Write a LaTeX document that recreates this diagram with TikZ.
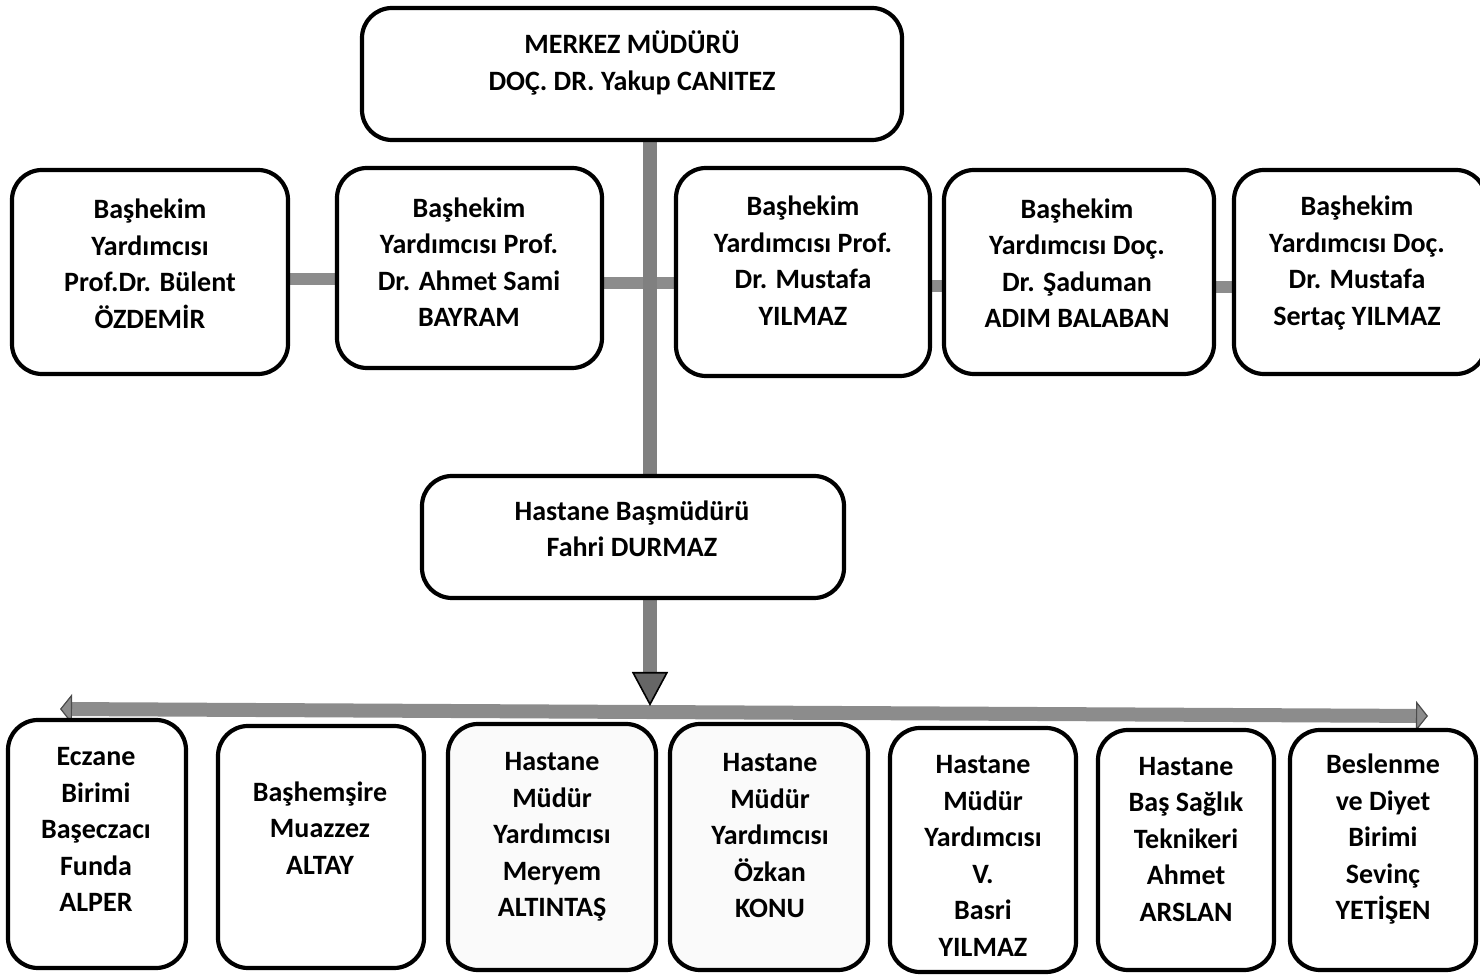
\documentclass[tikz,border=0pt]{standalone}
\usepackage{fontspec}
\setmainfont{Carlito}
\usetikzlibrary{arrows.meta}
\pgfdeclarelayer{bg}
\pgfsetlayers{bg,main}
\begin{document}
\begin{tikzpicture}[x=0.5pt,y=-0.5pt,
  box/.style={draw=black, line width=2.1pt, rounded corners=15pt, fill=white, inner sep=0pt},
  dotbox/.style={box, fill=black!2},
  txt/.style={font=\fontsize{14}{18.25}\selectfont\bfseries, align=center, inner sep=0pt},
  conn/.style={draw=black!45, line width=6pt},
]
\useasboundingbox (0,0) rectangle (1480,978);
\clip (0,0) rectangle (1480,978);

% top
\node[box, minimum width=270pt, minimum height=66pt] (top) at (632,74) {};
\node[txt] (ttop) at (632,63) {MERKEZ MÜDÜRÜ\\DOÇ. DR. Yakup CANITEZ};

% row 2
\node[box, minimum width=138pt, minimum height=102pt] (a1) at (150,272) {};
\node[box, minimum width=132.5pt, minimum height=100pt] (a2) at (469.5,268) {};
\node[box, minimum width=127pt, minimum height=104pt] (a3) at (803,272) {};
\node[box, minimum width=135pt, minimum height=102pt] (a4) at (1079,272) {};
\node[box, minimum width=126pt, minimum height=102pt] (a5) at (1360,272) {};
\node[txt] (ta1) at (150,264) {Başhekim\\Yardımcısı\\Prof.Dr. Bülent\\ÖZDEMİR};
\node[txt] (ta2) at (469,262) {Başhekim\\Yardımcısı Prof.\\Dr. Ahmet Sami\\BAYRAM};
\node[txt] (ta3) at (803,260.5) {Başhekim\\Yardımcısı Prof.\\Dr. Mustafa\\YILMAZ};
\node[txt] (ta4) at (1077,263) {Başhekim\\Yardımcısı Doç.\\Dr. Şaduman\\ADIM BALABAN};
\node[txt] (ta5) at (1357,263) {Başhekim\\Yardımcısı Doç.\\Dr. Mustafa\\Sertaç YILMAZ};

% middle
\node[box, minimum width=211pt, minimum height=61pt] (mid) at (633,537) {};
\node[txt] (tmid) at (632,529) {Hastane Başmüdürü\\Fahri DURMAZ};

% bottom row
\node[box, minimum width=89pt, minimum height=124pt] (b1) at (97,844) {};
\node[box, minimum width=103pt, minimum height=121pt] (b2) at (321,847) {};
\node[dotbox, minimum width=104pt, minimum height=123pt] (b3) at (552,847) {};
\node[dotbox, minimum width=99pt, minimum height=123pt] (b4) at (769,847) {};
\node[box, minimum width=93pt, minimum height=122pt] (b5) at (983,850) {};
\node[box, minimum width=88pt, minimum height=120pt] (b6) at (1186,850) {};
\node[box, minimum width=93pt, minimum height=120pt] (b7) at (1383,850) {};
\node[txt] (tb1) at (96,829.5) {Eczane\\Birimi\\Başeczacı\\Funda\\ALPER};
\node[txt] (tb2) at (320,828) {Başhemşire\\Muazzez\\ALTAY};
\node[txt] (tb3) at (552,837) {Hastane\\Müdür\\Yardımcısı\\Meryem\\ALTINTAŞ};
\node[txt] (tb4) at (770,836) {Hastane\\Müdür\\Yardımcısı\\Özkan\\KONU};
\node[txt] (tb5) at (983,856) {Hastane\\Müdür\\Yardımcısı\\V.\\Basri\\YILMAZ};
\node[txt] (tb6) at (1186,839.5) {Hastane\\Baş Sağlık\\Teknikeri\\Ahmet\\ARSLAN};
\node[txt] (tb7) at (1383,839.5) {Beslenme\\ve Diyet\\Birimi\\Sevinç\\YETİŞEN};

\coordinate (tk) at (650,706);
\coordinate (barL) at (60,709);
\coordinate (barR) at (1428,716);

\begin{pgfonlayer}{bg}
  \draw[conn] (a1.east |- 0,279) -- (a2.west |- 0,279);
  \draw[conn] (a2.east |- 0,283) -- (a3.west |- 0,283);
  \draw[conn] (a3.east |- 0,286) -- (a4.west |- 0,286);
  \draw[conn] (a4.east |- 0,287) -- (a5.west |- 0,287);
  \draw[draw=black!45, line width=7pt,
        {Triangle[width=15pt,length=6pt,line width=0.6pt,fill=black!45,color=black!70]}-{Triangle[width=15pt,length=6pt,line width=0.6pt,fill=black!45,color=black!70]}]
        (barL) -- (barR);
  \draw[draw=black!50, line width=7pt,
        -{Triangle[width=18pt,length=17pt,line width=0.8pt,fill=black!60,color=black]}]
        (top.south -| tk) -- (tk);
\end{pgfonlayer}
\end{tikzpicture}
\end{document}
